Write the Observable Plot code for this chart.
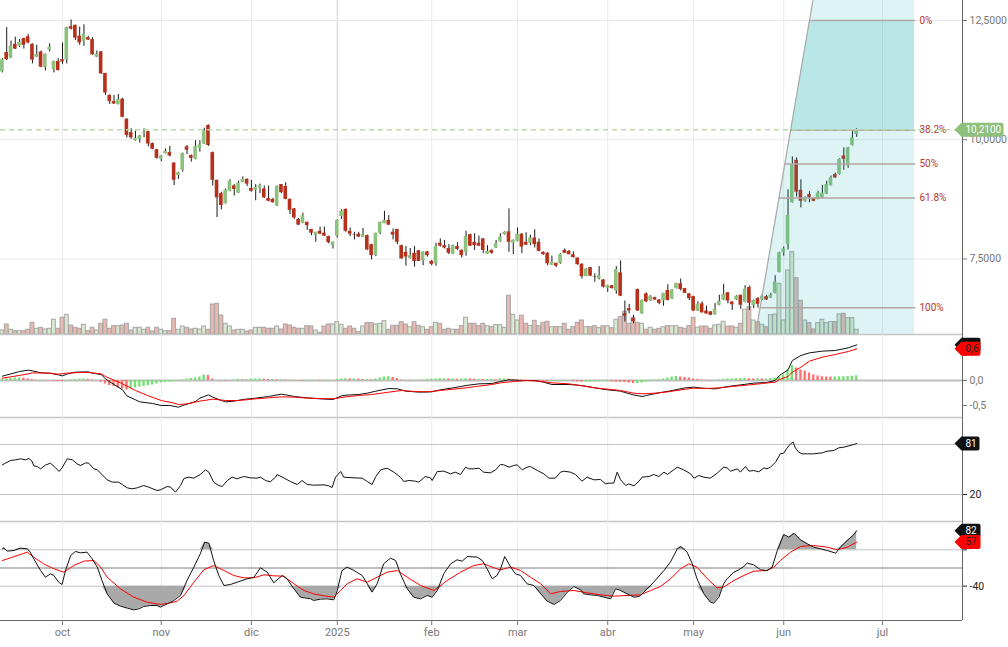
<!DOCTYPE html>
<html><head><meta charset="utf-8">
<script src="https://cdn.jsdelivr.net/npm/d3@7"></script>
<script src="https://cdn.jsdelivr.net/npm/@observablehq/plot@0.6"></script>
<style>
html,body{margin:0;padding:0;background:#fff;overflow:hidden;}
#chart{position:relative;width:1008px;height:647px;}
</style></head><body><div id="chart"></div>
<script>
// ---------------- DATA ----------------
const firstTradingDay = "2024-09-11", lastTradingDay = "2025-06-25", axisEndDay = "2025-07-20";
const holidays = ["2024-12-25","2024-12-26","2025-01-01","2025-04-18","2025-04-21","2025-05-01"];
const monthNames = ["ene","feb","mar","abr","may","jun","jul","ago","sep","oct","nov","dic"];

const open = [11.42,11.83,11.71,12.00,11.96,12.12,12.16,12.00,11.73,11.84,
11.52,11.88,11.47,11.64,11.68,11.67,12.37,12.40,12.17,12.06,
12.14,12.10,11.73,11.84,11.39,10.93,10.80,10.74,10.85,10.43,
10.15,9.98,10.01,10.13,10.17,9.92,9.79,9.59,9.71,9.73,
9.51,9.25,9.36,9.85,9.67,9.59,9.82,9.91,10.30,9.73,
9.15,8.87,8.66,8.92,9.03,8.88,9.10,9.17,8.98,8.94,
8.99,8.97,8.77,8.75,8.61,9.06,9.02,8.75,8.55,8.33,
8.25,8.27,8.12,8.00,8.08,8.04,7.97,7.78,7.98,8.39,
8.54,8.08,8.01,8.02,7.96,7.99,7.80,7.58,8.04,8.24,
8.31,8.06,8.12,7.78,7.64,7.51,7.62,7.67,7.46,7.65,
7.45,7.40,7.83,7.78,7.72,7.60,7.76,7.68,7.64,8.01,
7.85,7.83,7.92,7.60,7.68,7.73,7.86,8.01,8.07,7.83,
7.87,8.02,7.85,7.83,7.94,7.85,7.64,7.62,7.37,7.41,
7.40,7.68,7.66,7.59,7.52,7.39,7.13,7.32,7.13,7.08,
7.06,6.89,6.94,6.83,7.21,6.35,6.46,6.25,6.86,6.35,
6.77,6.62,6.69,6.64,6.62,6.84,6.66,6.88,6.98,6.88,
6.77,6.71,6.41,6.56,6.41,6.39,6.33,6.53,6.64,6.79,
6.60,6.64,6.74,6.59,6.90,6.52,6.67,6.64,6.71,6.68,
6.78,7.22,7.63,7.81,8.68,9.57,8.94,8.71,8.85,8.77,
8.75,8.77,8.86,9.04,9.27,9.27,9.66,9.45,9.88,10.11];
const close = [11.68,11.68,11.96,11.90,12.04,11.98,12.03,11.67,11.79,11.52,
11.79,11.94,11.64,11.45,11.63,12.35,12.32,12.13,12.03,12.21,
12.09,11.78,11.79,11.38,10.98,10.80,10.75,10.84,10.47,10.09,
10.04,10.03,10.08,10.15,9.91,9.80,9.61,9.66,9.76,9.66,
9.15,9.31,9.71,9.78,9.61,9.86,9.89,10.18,9.88,9.15,
8.78,8.62,8.94,9.13,8.96,9.09,9.17,9.07,8.92,9.00,
9.04,8.78,8.71,8.68,9.02,8.89,8.75,8.52,8.36,8.21,
8.41,8.20,8.04,8.06,8.02,7.98,7.84,7.85,8.31,8.50,
8.08,8.02,8.00,7.96,8.02,7.69,7.57,8.04,8.27,8.31,
8.21,8.00,7.85,7.50,7.54,7.57,7.45,7.45,7.64,7.57,
7.39,7.76,7.77,7.73,7.62,7.78,7.70,7.57,7.97,7.77,
7.78,7.77,7.68,7.66,7.62,7.82,7.96,8.06,7.85,7.89,
8.02,7.75,7.79,7.94,7.80,7.66,7.59,7.40,7.43,7.35,
7.60,7.62,7.59,7.53,7.38,7.13,7.29,7.14,7.12,7.15,
6.91,6.94,6.88,7.28,6.72,6.30,6.41,6.19,6.41,6.63,
6.60,6.72,6.64,6.57,6.78,6.63,6.85,6.98,6.86,6.78,
6.67,6.41,6.55,6.37,6.35,6.32,6.44,6.61,6.76,6.62,
6.54,6.72,6.53,6.87,6.57,6.63,6.55,6.72,6.64,6.74,
7.02,7.63,7.71,8.41,9.47,8.90,8.71,8.79,8.79,8.71,
8.88,8.88,9.06,9.20,9.20,9.59,9.59,9.83,10.04,10.21];
const high = [11.70,12.35,12.07,12.15,12.10,12.13,12.21,12.01,11.98,11.86,
11.80,12.01,11.65,11.70,12.03,12.36,12.51,12.40,12.36,12.41,
12.17,12.14,11.86,11.85,11.39,10.94,10.93,10.95,10.87,10.44,
10.23,10.18,10.09,10.23,10.18,9.93,9.80,9.67,9.81,9.86,
9.52,9.32,9.72,9.88,9.68,9.98,9.98,10.24,10.31,9.74,
9.15,8.90,8.97,9.16,9.06,9.13,9.22,9.18,9.15,9.06,
9.07,9.03,9.03,8.77,9.03,9.06,9.10,8.76,8.56,8.35,
8.46,8.27,8.12,8.06,8.17,8.17,7.98,7.86,8.32,8.53,
8.55,8.15,8.06,8.06,8.14,8.00,7.81,8.04,8.27,8.50,
8.41,8.13,8.12,7.79,7.76,7.72,7.76,7.68,7.65,7.66,
7.47,7.83,7.92,7.89,7.80,7.79,7.84,7.69,8.08,8.02,
8.03,7.98,7.93,7.78,7.69,7.89,8.03,8.07,8.55,7.90,
8.15,8.03,8.05,8.00,8.11,7.92,7.65,7.63,7.56,7.41,
7.61,7.71,7.68,7.65,7.52,7.40,7.30,7.32,7.19,7.34,
7.07,6.95,6.94,7.34,7.46,6.62,6.55,6.32,6.87,6.64,
6.79,6.73,6.70,6.65,6.78,6.96,6.86,6.99,7.08,6.88,
6.77,6.72,6.60,6.60,6.51,6.40,6.57,6.74,6.97,6.80,
6.60,6.73,6.74,6.94,6.93,6.64,6.69,6.76,6.74,6.78,
7.15,7.64,7.75,8.95,9.64,9.62,9.16,8.80,8.91,8.78,
8.92,9.04,9.13,9.24,9.30,9.60,9.83,9.84,10.17,10.23];
const low = [11.40,11.66,11.70,11.89,11.93,11.90,12.01,11.59,11.72,11.51,
11.44,11.84,11.40,11.44,11.58,11.59,12.30,12.08,11.98,11.96,
12.08,11.77,11.72,11.37,10.93,10.74,10.74,10.73,10.46,10.04,
10.01,9.97,9.93,10.04,9.85,9.79,9.59,9.54,9.70,9.64,
9.04,9.17,9.32,9.69,9.53,9.58,9.74,9.90,9.86,9.03,
8.37,8.53,8.65,8.91,8.82,8.87,9.10,9.02,8.90,8.72,
8.87,8.77,8.70,8.67,8.60,8.87,8.74,8.43,8.33,8.20,
8.24,8.10,7.99,7.85,8.01,7.97,7.82,7.71,7.94,8.33,
8.06,7.97,7.90,7.95,7.95,7.68,7.48,7.55,8.01,8.24,
8.20,7.90,7.80,7.50,7.35,7.50,7.33,7.45,7.36,7.54,
7.36,7.35,7.75,7.71,7.59,7.59,7.68,7.52,7.56,7.76,
7.68,7.76,7.61,7.60,7.60,7.72,7.85,8.00,7.64,7.59,
7.86,7.61,7.78,7.78,7.73,7.65,7.58,7.36,7.36,7.32,
7.39,7.61,7.59,7.52,7.37,7.08,7.13,7.13,7.01,7.06,
6.89,6.80,6.87,6.76,6.71,6.18,6.35,6.14,6.40,6.34,
6.59,6.61,6.63,6.54,6.51,6.62,6.65,6.87,6.83,6.78,
6.63,6.40,6.40,6.37,6.34,6.31,6.32,6.52,6.63,6.56,
6.42,6.63,6.44,6.58,6.42,6.46,6.47,6.63,6.63,6.67,
6.77,7.21,7.56,7.69,8.67,8.80,8.57,8.69,8.68,8.70,
8.74,8.76,8.85,9.03,9.19,9.26,9.36,9.40,9.87,10.05];
// volume, thousands of shares
const volume = [100,250,118,83,83,83,118,293,143,168,
125,143,368,143,418,493,225,168,143,243,
83,168,100,268,368,143,208,208,225,268,
100,168,168,118,168,75,168,118,83,83,
393,118,200,168,125,143,125,200,118,750,
768,475,268,200,100,118,118,75,100,168,
168,168,143,143,200,125,250,225,168,143,
143,208,200,100,43,200,250,250,308,243,
143,200,143,58,200,283,283,250,268,333,
118,218,218,308,250,183,308,218,183,118,
183,293,268,118,143,118,118,208,418,268,
268,208,268,208,183,233,233,168,968,493,
350,468,268,208,343,208,293,318,183,183,
183,268,118,183,293,350,183,183,208,158,
208,208,158,368,433,568,268,418,293,268,
118,168,118,143,183,208,208,208,168,143,
208,418,168,200,200,143,225,243,318,200,
200,168,268,618,683,350,308,243,183,483,
500,1268,350,1600,2058,1408,843,350,283,125,
283,368,283,308,308,500,518,408,408,118];
const macdHist = [0.02,0.03,0.04,0.045,0.05,0.045,0.03,0.02,
0.005,0,-0.005,0, -0.01,-0.015,-0.02, -0.01,0.01,0.02,0.025,0.03, 0.02,0.01,0,
-0.03,-0.07,-0.1,-0.12,-0.15,-0.17,-0.19,
-0.17,-0.15,-0.13,-0.12,-0.1,-0.09,-0.07,-0.05,-0.04,-0.03,-0.02,-0.01,
0.01,0.03,0.04,0.05,0.07,0.11, 0.1,0.03,0,
-0.005,-0.01,0,0.01,0.02,0.015, 0.02,0.025,0.03,0.03,0.025,0.02,
0.02,0.015,0.015,0.01,0.01,0.005,
-0.005,-0.01,-0.01,-0.01,-0.005,-0.01,-0.01,-0.005,0,
0.02,0.03,0.035,0.03,0.03,0.025,0.02,0.02,0.015,
0.03,0.05,0.07,0.075,0.06,0.04, 0.01,-0.005,-0.01,-0.01,
0.005,0.01,0.02,0.025,0.03,0.035,0.035,0.03,0.03,0.025,0.03,0.035,0.03,0.025,0.025,0.02,0.02,0.02,0.015,
0.03,0.03,0.025,0.02,0.015,0.01,
0.005,0,-0.005,-0.01,-0.015,-0.02,-0.02,-0.015,-0.015,-0.01,-0.01,
-0.02,-0.025,-0.03,-0.03,-0.03,-0.025,-0.02,
-0.02,-0.02,-0.025,-0.03,-0.035,
-0.04,-0.05,-0.06,-0.06,-0.05, -0.03,-0.02,
0.01,0.02,0.03,0.05,0.07,0.08, 0.07,0.06,0.05,0.03,0.02,0.01, 0.005,-0.005,0,
0.01,0.02,0.03,0.03,0.035,0.04,0.04,0.035,0.03,0.035,0.03,0.03,0.04,0.05,
0.07,0.11,0.21,0.3,
0.25,0.21,0.19,0.15,0.11,0.09,0.075,0.07,0.067,
0.07,0.072,0.075,0.078,0.085,0.095];
const macdLine = [[0,0.087],[2,0.133],[4,0.18],[6,0.207],[7,0.193],[9,0.153],[11,0.147],[13,0.113],[14,0.093],[15,0.127],[17,0.167],[20,0.173],[21,0.147],[23,0.12],[24,0.033],[26,-0.08],[28,-0.187],[29,-0.307],[31,-0.387],[32,-0.427],[35,-0.46],[37,-0.5],[39,-0.5],[41,-0.533],[42,-0.5],[45,-0.42],[46,-0.353],[48,-0.287],[49,-0.333],[51,-0.4],[52,-0.427],[54,-0.413],[56,-0.38],[59,-0.353],[62,-0.32],[65,-0.273],[66,-0.287],[68,-0.32],[71,-0.347],[74,-0.367],[77,-0.38],[79,-0.307],[80,-0.293],[83,-0.28],[85,-0.253],[87,-0.213],[90,-0.16],[92,-0.167],[94,-0.213],[97,-0.233],[100,-0.227],[102,-0.187],[105,-0.147],[108,-0.1],[111,-0.067],[114,-0.06],[116,-0.02],[118,0.013],[121,0],[124,0],[126,-0.033],[128,-0.08],[132,-0.08],[135,-0.1],[138,-0.147],[141,-0.187],[144,-0.213],[145,-0.24],[147,-0.287],[149,-0.32],[150,-0.3],[153,-0.247],[156,-0.2],[159,-0.147],[161,-0.133],[163,-0.153],[166,-0.167],[169,-0.12],[172,-0.087],[175,-0.053],[178,-0.04],[180,0],[181,0.1],[183,0.213],[184,0.4],[186,0.5],[188,0.553],[191,0.587],[194,0.6],[197,0.653],[199,0.713]];
const signalLine = [[0,0.047],[3,0.087],[6,0.133],[7,0.153],[11,0.147],[13,0.127],[15,0.147],[18,0.16],[20,0.16],[23,0.133],[24,0.08],[28,-0.067],[31,-0.2],[34,-0.307],[37,-0.4],[40,-0.453],[41,-0.48],[43,-0.467],[46,-0.413],[49,-0.373],[52,-0.4],[55,-0.4],[59,-0.367],[62,-0.347],[65,-0.327],[68,-0.333],[71,-0.353],[74,-0.36],[77,-0.367],[80,-0.327],[83,-0.3],[86,-0.28],[90,-0.233],[93,-0.2],[96,-0.22],[99,-0.227],[102,-0.2],[105,-0.173],[108,-0.147],[111,-0.113],[114,-0.08],[116,-0.047],[119,-0.02],[122,0],[125,-0.013],[128,-0.047],[132,-0.067],[135,-0.107],[138,-0.147],[141,-0.173],[144,-0.2],[147,-0.253],[149,-0.267],[152,-0.253],[155,-0.227],[158,-0.187],[161,-0.153],[164,-0.16],[167,-0.147],[170,-0.12],[174,-0.087],[177,-0.06],[180,-0.033],[181,0.02],[183,0.08],[184,0.167],[186,0.267],[188,0.387],[191,0.467],[194,0.52],[197,0.58],[199,0.633]];
const rsiLine = [[0,55.6],[0.7,57.6],[1.9,60.8],[3.1,61.6],[4.2,62.8],[5.4,61.6],[6.2,63.2],[6.9,60],[7.3,54.4],[8.1,53.6],[8.9,50.8],[10,55.2],[11.2,57.6],[12.4,52],[13.2,47.6],[13.9,52],[15.1,62.8],[16.3,61.6],[17.4,56.8],[18.2,54.8],[19.4,58],[20.1,57.6],[21.3,50.8],[22.1,49.6],[23.2,44],[24.4,37.6],[25.6,34.8],[27.1,34.8],[27.9,32],[29.1,28],[30.2,26.8],[31.4,28],[32.9,30.8],[34.1,28.8],[36,24.8],[36.8,25.6],[38.4,29.6],[39.2,28.8],[40.3,22.8],[41.5,30.8],[42.3,39.2],[43.4,40.8],[44.6,39.6],[46.1,44],[47.3,49.6],[48.1,46.8],[49.2,34.8],[50.4,30.8],[51.2,29.6],[52.4,36.8],[53.5,40.8],[54.7,38.8],[56.2,41.6],[57.8,40],[59.3,39.6],[60.1,40.8],[61.3,36.8],[62.4,35.2],[63.6,40.8],[64,44],[65.5,40],[67.1,35.6],[68.7,32],[69.8,36.8],[71,32],[72.5,31.2],[74.9,31.6],[76,30.4],[76.8,28.4],[77.6,40.8],[78.8,47.6],[79.5,40.8],[81.9,40],[83.8,39.6],[85,35.6],[86.1,32],[86.9,40.8],[88.1,49.6],[89.6,51.6],[91.2,46.8],[92.7,40.8],[93.5,35.6],[94.7,36.8],[96.2,36],[97,34.8],[98.5,41.6],[99.7,40],[100.1,36.8],[101.3,47.6],[102.8,48],[104.4,44.8],[105.5,46.8],[106.7,44],[107.9,52.8],[108.6,50.8],[109.8,50.8],[111,51.6],[112.1,46.8],[113.7,46],[114.9,49.6],[116,56],[116.8,55.6],[118,52.8],[119.1,54.8],[119.9,55.6],[121.1,49.6],[122.2,52.8],[123,53.6],[124.6,48.8],[126.1,44.8],[127.3,39.6],[128.8,39.6],[130,46.8],[130.8,48],[132.3,46.8],[133.5,44],[135,36],[136.2,40.8],[137.8,37.6],[139.3,38],[140.5,32.8],[141.3,33.6],[142.4,33.6],[143.2,46.8],[144,37.6],[145.2,30.8],[145.9,32.8],[147.1,30.4],[148.3,36],[149,40.8],[150.6,41.6],[151.7,44],[152.9,41.6],[154.1,46.8],[154.9,44],[157.2,52.8],[158.7,49.6],[160.3,44.8],[161.1,39.6],[162.2,42.8],[163.4,40.8],[164.9,39.6],[166.5,45.6],[168,52.8],[168.8,52],[169.6,48],[171.2,50.8],[171.9,46.8],[173.1,53.6],[173.9,48],[175,48.8],[176.2,47.2],[177.4,52],[178.1,50.8],[178.9,52.8],[180.1,58.8],[181.2,68.8],[182,69.6],[182.8,76],[183.6,80.8],[184.2,82.8],[184.7,76],[185.5,70.8],[186.3,68.8],[187.5,68.8],[189,68.8],[191,70],[192.1,72],[193.7,72.8],[194.8,76],[196,76.8],[197.2,78.4],[198.3,80],[199,81.2]];
const stochK = [[0,42.2],[0.3,44.4],[1.1,37.1],[2.7,38.6],[4.2,43.7],[5.8,42.2],[6.5,34.9],[7.3,20.2],[8.9,-5.5],[10,-20.2],[11.2,-12.8],[12,-16.5],[13.1,-31.2],[13.9,-36.3],[14.7,-5.5],[15.9,27.5],[17,36.4],[18.2,33.4],[19.7,34.9],[20.9,20.2],[22.1,1.9],[23.2,-27.5],[24.4,-56.9],[26,-77.4],[27.5,-84],[29.1,-88.4],[30.6,-92.1],[31.8,-89.9],[32.9,-84.8],[34.5,-82.6],[36,-82.6],[36.8,-86.2],[38.4,-78.9],[39.9,-71.5],[41.5,-60.5],[43,-27.5],[44.6,1.9],[46.1,31.2],[47.1,56.9],[48.1,54.7],[49.2,16.5],[50.4,-16.5],[51.6,-38.5],[53.1,-36.3],[54.7,-31.2],[57,-23.8],[58.6,-20.2],[60.1,0.4],[61.7,-9.2],[63.2,-32.6],[65.2,-16.5],[66.3,-23.8],[67.9,-45.9],[69.4,-64.2],[71.8,-67.9],[72.5,-71.5],[74.1,-68.6],[75.6,-67.9],[77.2,-70.1],[78,-49.5],[79.1,-5.5],[80.3,1.9],[81.9,-5.5],[83.8,-16.5],[85,-34.8],[86.1,-53.2],[87.3,-34.8],[88.8,9.2],[90.4,21.7],[91.6,16.5],[92.7,-12.8],[94.3,-45.9],[95.8,-64.2],[97.4,-67.9],[98.9,-60.5],[100.1,-64.2],[101.3,-49.5],[102.8,-12.8],[104.4,9.2],[105.9,18],[107.1,15.1],[108.3,25.3],[110.6,23.9],[111.8,16.5],[112.9,-1.8],[114.1,-23.8],[115.2,-16.5],[116,-3],[117,25.3],[118.4,1.9],[119.5,-12.8],[120.7,-16.5],[122.2,-34.8],[123.8,-38.5],[125.4,-56.9],[126.9,-73],[128.5,-80.3],[130,-71.5],[131.6,-53.2],[133.1,-40.7],[134.7,-48.1],[135.4,-56.9],[137,-59.1],[138.6,-60.5],[140.1,-64.2],[141.7,-67.9],[142.8,-45.9],[144,-49.5],[145.5,-56.9],[147.1,-64.2],[148.3,-62.7],[149.4,-53.2],[151.7,-31.2],[154.1,-5.5],[155.6,12.9],[157.2,42.2],[158,47.4],[159.5,34.9],[160.7,9.2],[161.8,-23.8],[163.4,-56.9],[164.9,-75.2],[165.7,-77.4],[166.9,-64.2],[168,-34.8],[168.8,-23.8],[170.4,-9.2],[171.5,-4],[172.7,3.3],[173.5,10.7],[175,7],[176.6,-4],[178.1,-5.5],[179.3,1.9],[180.5,38.6],[182,73.8],[183.2,67.9],[184.4,76.7],[185.9,62],[187.5,53.2],[189,45.9],[190.6,42.2],[192.1,38.6],[194.1,32.7],[195.2,45.9],[196.8,60.6],[198.3,73.1],[199,82]];
const stochD = [[0,16.5],[1.9,22.4],[4.2,29.8],[5.8,34.9],[7.3,23.9],[9.6,9.2],[12,-1.8],[14.3,-9.2],[16.6,5.5],[19,15.1],[21.3,16.5],[22.9,1.9],[24.4,-20.2],[27.5,-45.9],[30.6,-64.2],[33.7,-75.2],[36.8,-80.3],[39.2,-76.7],[40.7,-73],[42.3,-60.5],[44.6,-31.2],[46.9,-4],[49.2,5.5],[51.6,-5.5],[53.9,-16.5],[56.2,-21.6],[58.6,-21.6],[60.9,-15],[63.2,-17.2],[65.5,-18],[67.9,-34.8],[70.2,-49.5],[72.5,-56.9],[74.9,-61.3],[77.2,-64.2],[78.8,-49.5],[80.3,-34.8],[82.6,-23.8],[85,-31.2],[87.3,-20.2],[89.6,-9.2],[92,-5.5],[94.3,-20.2],[97.4,-38.5],[100.5,-49.5],[103.6,-27.5],[106.7,-9.2],[109.8,5.5],[112.1,9.2],[114.5,0.4],[116,-4],[118.4,1.9],[120.7,-5.5],[123,-20.2],[125.4,-34.8],[127.7,-56.9],[130,-51.7],[133.1,-49.5],[136.2,-54.7],[139.3,-59.1],[142.4,-62],[145.5,-60.5],[148.6,-59.1],[151,-49.5],[153.3,-40.7],[155.6,-23.8],[158,-1.8],[159.9,9.2],[161.8,1.9],[164.2,-23.8],[166.5,-43.6],[168,-42.2],[170.4,-27.5],[172.7,-16.5],[175,-7],[178.1,-5.5],[179.7,1.9],[181.2,16.5],[183.6,34.9],[185.9,47.4],[189,49.6],[192.1,45.9],[194.5,40],[196.8,45.9],[199,57]];
// Fibonacci retracement (anchors in trading-day positions)
const fibLow = 6.48, fibHigh = 12.5;
const fibLowDay = 176.5, fibHighDay = 188.0, fibEndDay = 212.46;
const fibLevels = [0, 0.382, 0.5, 0.618, 1];
const fibLabels = ["0%", "38.2%", "50%", "61.8%", "100%"];
const priceTicks = [7.5, 10, 12.5];
const macdGrid = [0.5, 0, -0.5], macdLabelTicks = [0, -0.5];
const rsiGrid = [80, 20], rsiLabelTicks = [20];
const oscGrid = [40, -40], oscLabelTicks = [-40];

// ---------------- LAYOUT ----------------
const X0 = -0.4426, X1 = 223.64;
const P0 = 5.917, P1 = 12.919;
const GREEN = "#8cc27d", RED = "#b6311b";
const FONT = "Roboto, 'Liberation Sans', sans-serif";

function buildDays() {
  const out = [], hol = new Set(holidays);
  const last = new Date(lastTradingDay + "T00:00:00Z"), end = new Date(axisEndDay + "T00:00:00Z");
  for (let d = new Date(firstTradingDay + "T00:00:00Z"); d <= end; d = new Date(d.getTime() + 86400000)) {
    const iso = d.toISOString().slice(0, 10), wd = d.getUTCDay();
    if (d <= last && (wd === 0 || wd === 6 || hol.has(iso))) continue;
    out.push(d);
  }
  return out;
}
const days = buildDays();
const monthTicks = [];
days.forEach((d, i) => {
  if (i > 0 && d.getUTCMonth() !== days[i - 1].getUTCMonth()) {
    const m = d.getUTCMonth();
    monthTicks.push({i, label: m === 0 ? String(d.getUTCFullYear()) : monthNames[m], year: m === 0});
  }
});
const tickLabel = new Map(monthTicks.map(d => [d.i, d.label]));

const candles = open.map((o, i) => ({i, o, c: close[i], h: high[i], l: low[i], v: volume[i]}));
const histData = macdHist.map((h, i) => ({i, h, up: i === 0 || h >= macdHist[i - 1]}));
const comma = (v, n) => d3.format("." + n + "f")(v).replace(".", ",").replace("\u2212", "-");
const fibPrice = f => fibHigh - f * (fibHigh - fibLow);
const diagDay = p => fibLowDay + (p - fibLow) / (fibHigh - fibLow) * (fibHighDay - fibLowDay);
const fibRows = fibLevels.map((f, k) => ({p: fibPrice(f), label: fibLabels[k]}));

const chart = document.getElementById("chart");
function add(svg, top) {
  svg.style.position = "absolute"; svg.style.left = "0px"; svg.style.top = top + "px";
  chart.appendChild(svg);
}
const style = {background: "transparent", overflow: "visible", fontFamily: FONT, fontSize: "10.5px", color: "#333"};
const common = {width: 1008, marginLeft: 0, marginRight: 46, marginTop: 0, marginBottom: 0, style, x: {domain: [X0, X1], axis: null}};
const vGrid = () => Plot.ruleX(monthTicks, {x: "i", stroke: d => d.year ? "#cdcdcd" : "#ececec", strokeWidth: 1});
const rightLine = () => Plot.ruleX([X1], {stroke: "#666", strokeWidth: 1});
const yAxis = (grid, labelled, fmt, color) => Plot.axisY({
  anchor: "right", ticks: grid, tickFormat: d => labelled.includes(d) ? fmt(d) : "",
  label: null, tickSize: 4, tickPadding: 3, color, fontSize: 10.5, fontFamily: FONT
});

function tag(value, label, fill, textFill, w) {
  const sym = {draw(ctx) {
    ctx.moveTo(-8, 0); ctx.lineTo(-1, -7); ctx.lineTo(w - 2, -7);
    ctx.quadraticCurveTo(w, -7, w, -5); ctx.lineTo(w, 5); ctx.quadraticCurveTo(w, 7, w - 2, 7);
    ctx.lineTo(-1, 7); ctx.closePath();
  }};
  const marks = [Plot.dot([value], {x: () => X1, y: d => d, symbol: sym, fill, stroke: "none", r: 1})];
  if (label) marks.push(Plot.text([value], {x: () => X1, y: d => d, text: () => label, dx: 3, textAnchor: "start", fill: textFill, fontSize: 10, fontFamily: FONT}));
  return marks;
}

// price grid
add(Plot.plot({...common, height: 334, y: {domain: [P0, P1], axis: null},
  marks: [vGrid(), Plot.ruleY(priceTicks, {stroke: "#e7e7e7"})]}), 0);
// volume
add(Plot.plot({...common, height: 334, y: {domain: [0, 8350], axis: null},
  marks: [Plot.rect(candles, {x1: d => d.i - 0.45, x2: d => d.i + 0.45, y1: 0, y2: "v",
    fill: d => d.c >= d.o ? "#d9e9cf" : "#e9b9b1", stroke: "#a6a6a6", strokeWidth: 1})]}), 0);
// candles + fibonacci
const pBot = diagDay(P0), pTop = diagDay(P1);
const last = close[close.length - 1];
add(Plot.plot({...common, height: 334, y: {domain: [P0, P1], axis: null},
  marks: [
    Plot.ruleX(candles, {x: "i", y1: "l", y2: "h", stroke: "#1a1a1a", strokeWidth: 1}),
    Plot.rect(candles, {x1: d => d.i - 0.42, x2: d => d.i + 0.42, y1: "o", y2: "c", fill: d => d.c >= d.o ? GREEN : RED}),
    Plot.areaX([{p: P0, a: pBot, b: fibEndDay}, {p: P1, a: pTop, b: fibEndDay}], {y: "p", x1: "a", x2: "b", fill: "rgb(0,168,176)", fillOpacity: 0.135}),
    Plot.areaX([{p: fibPrice(0.382), a: diagDay(fibPrice(0.382)), b: fibEndDay}, {p: fibHigh, a: diagDay(fibHigh), b: fibEndDay}], {y: "p", x1: "a", x2: "b", fill: "rgb(0,168,176)", fillOpacity: 0.16}),
    Plot.line([{d: pBot, p: P0}, {d: pTop, p: P1}], {x: "d", y: "p", stroke: "#a9a9a9", strokeWidth: 1.2}),
    Plot.ruleY(fibRows, {y: "p", x1: d => diagDay(d.p), x2: fibEndDay + 0.3, stroke: "#b3a6a6", strokeWidth: 1.5}),
    Plot.text(fibRows, {y: "p", x: fibEndDay, text: "label", dx: 5, textAnchor: "start", fill: "#b8372c", fontSize: 10, fontFamily: FONT}),
    Plot.ruleY([last], {stroke: "#b7daa9", strokeWidth: 1.5, strokeDasharray: "5,4"}),
    Plot.ruleY([P0], {stroke: "#c6c6c6", strokeWidth: 1.5}),
    rightLine(),
    yAxis(priceTicks, priceTicks, d => comma(d, 4), "#777"),
    ...tag(last, comma(last, 4), "#8cc07b", "#fff", 41)
  ]}), 0);

// MACD
const mLast = macdLine[macdLine.length - 1][1], sLast = signalLine[signalLine.length - 1][1];
add(Plot.plot({...common, height: 83, y: {domain: [-0.74, 0.92], axis: null},
  marks: [
    vGrid(),
    Plot.ruleY([0], {stroke: "#bdbdbd", strokeWidth: 2}),
    Plot.rect(histData, {x1: d => d.i - 0.27, x2: d => d.i + 0.27, y1: 0, y2: "h", fill: d => d.up ? "#6de26d" : "#ff6d6d"}),
    Plot.line(macdLine, {x: d => d[0], y: d => d[1], stroke: "#111", strokeWidth: 1}),
    Plot.line(signalLine, {x: d => d[0], y: d => d[1], stroke: "#ff0000", strokeWidth: 1}),
    Plot.ruleY([-0.74], {stroke: "#c6c6c6", strokeWidth: 1.5}),
    rightLine(),
    yAxis(macdGrid, macdLabelTicks, d => comma(d, 1), "#777"),
    ...tag(mLast, null, "#111", "#fff", 18),
    ...tag(sLast, comma(sLast, 1), "#ff0000", "#222", 18)
  ]}), 334);

// RSI
const rLast = rsiLine[rsiLine.length - 1][1];
add(Plot.plot({...common, height: 104, y: {domain: [-12.4, 112.4], axis: null},
  marks: [
    vGrid(),
    Plot.ruleY(rsiGrid, {stroke: "#c4c4c4", strokeWidth: 1}),
    Plot.line(rsiLine, {x: d => d[0], y: d => d[1], stroke: "#111", strokeWidth: 1}),
    Plot.ruleY([-12.4], {stroke: "#c6c6c6", strokeWidth: 1.5}),
    rightLine(),
    yAxis(rsiGrid, rsiLabelTicks, d => String(d), "#222"),
    ...tag(rLast, String(Math.round(rLast)), "#111", "#fff", 17)
  ]}), 417);

// Oscillator
const kLast = stochK[stochK.length - 1][1], dLast = stochD[stochD.length - 1][1];
add(Plot.plot({...common, height: 126, marginBottom: 27, y: {domain: [-115.6, 102.4], axis: null},
  marks: [
    vGrid(),
    Plot.ruleY(oscGrid, {stroke: "#c4c4c4", strokeWidth: 1}),
    Plot.ruleY([0], {stroke: "#bdbdbd", strokeWidth: 2}),
    Plot.areaY(stochK, {x: d => d[0], y1: 40, y2: d => Math.max(d[1], 40), fill: "#a9a9a9"}),
    Plot.areaY(stochK, {x: d => d[0], y1: -40, y2: d => Math.min(d[1], -40), fill: "#a9a9a9"}),
    Plot.line(stochD, {x: d => d[0], y: d => d[1], stroke: "#ff0000", strokeWidth: 1}),
    Plot.line(stochK, {x: d => d[0], y: d => d[1], stroke: "#111", strokeWidth: 1}),
    Plot.ruleY([-115.6], {stroke: "#666", strokeWidth: 1}),
    rightLine(),
    yAxis(oscGrid, oscLabelTicks, d => String(d), "#222"),
    Plot.axisX({ticks: monthTicks.map(d => d.i), tickFormat: i => tickLabel.get(i), label: null, tickSize: 5, tickPadding: 3, color: "#777", fontSize: 11, fontFamily: FONT}),
    ...tag(kLast, String(Math.round(kLast)), "#111", "#fff", 18),
    ...tag(dLast, String(Math.round(dLast)), "#ff0000", "#222", 18)
  ]}), 521);
</script></body></html>
